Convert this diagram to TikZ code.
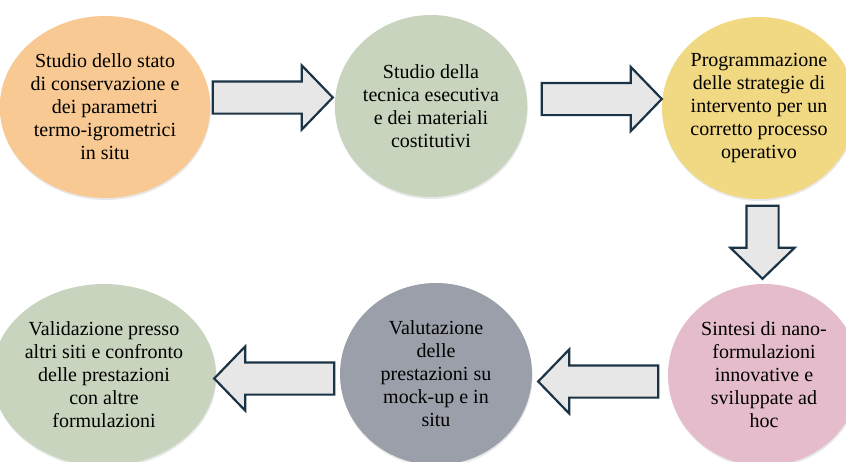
\documentclass[tikz,border=0pt]{standalone}
\usepackage{fontspec}
\setmainfont{Liberation Serif}
\usepackage{xcolor}
\definecolor{peach}{HTML}{F8C992}
\definecolor{sage}{HTML}{C9D4BE}
\definecolor{ochre}{HTML}{F1D882}
\definecolor{rose}{HTML}{E5BCCB}
\definecolor{slate}{HTML}{9B9FA9}
\definecolor{edge}{HTML}{1B3445}
\definecolor{arrfill}{HTML}{E7E7E7}
\usetikzlibrary{shapes.geometric,shapes.arrows,calc,shadows}
\tikzset{
  stage/.style={ellipse,inner sep=0pt,minimum width=192pt,minimum height=182pt,align=center,
    font=\fontsize{20}{23}\selectfont,drop shadow={opacity=0.18,shadow xshift=0.6pt,shadow yshift=-2pt}},
  blk/.style={single arrow,draw=edge,fill=arrfill,line width=2.2pt,inner xsep=0pt,inner ysep=15pt,
    single arrow head extend=16pt,single arrow tip angle=92,minimum height=120pt},
}

\begin{document}
\begin{tikzpicture}[x=1pt,y=-1pt]
\useasboundingbox (0,0) rectangle (846,461);
\clip (0,0) rectangle (846,461);
% stages
\foreach \n/\x/\y/\c/\t in {
  s1/105/107/peach/{Studio dello stato\\di conservazione e\\dei parametri\\termo-igrometrici\\in situ},
  s2/431/106/sage/{Studio della\\tecnica esecutiva\\e dei materiali\\costitutivi},
  s3/759/108/ochre/{Programmazione\\delle strategie di\\intervento per un\\corretto processo\\operativo},
  s4/764/375/rose/{Sintesi di nano-\\formulazioni\\innovative e\\sviluppate ad\\hoc},
  s5/436/374/slate/{Valutazione\\delle\\prestazioni su\\mock-up e in\\situ},
  s6/104/375/sage/{Validazione presso\\altri siti e confronto\\delle prestazioni\\con altre\\formulazioni}}{
  \node[stage,fill=\c] (\n) at (\x,\y) {\t};}
% block arrows
\node[blk] (a1) at ($(s1)!0.5!(s2)+(-3,-9)$) {};
\node[blk] (a2) at ($(s2)!0.5!(s3)+(-1,-8)$) {};
\node[blk,rotate=-90,minimum height=73pt] (a3) at ($(s3)!0.5!(s4)+(1,-7)$) {};
\node[blk,rotate=180] (a4) at ($(s4)!0.5!(s5)+(6,7)$) {};
\node[blk,rotate=180] (a5) at ($(s5)!0.5!(s6)+(12,4)$) {};
\end{tikzpicture}
\end{document}
